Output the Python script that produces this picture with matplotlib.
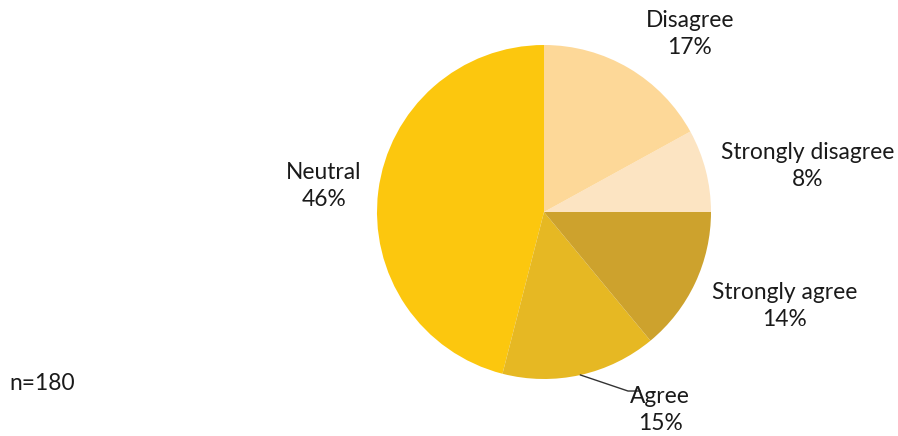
import matplotlib.pyplot as plt
import numpy as np

plt.rcParams['font.family'] = ['Lato', 'DejaVu Sans']

categories = ["Strongly disagree", "Disagree", "Neutral", "Agree", "Strongly agree"]
shares = [8, 17, 46, 15, 14]
colors = ["#FCE4C2", "#FDD898", "#FCC70E", "#E6B823", "#CDA22D"]
sample_note = "n=180"

W, H = 898, 436
fig = plt.figure(figsize=(W / 100, H / 100), dpi=100)

cx, cy, r = 544, 212, 167
ax = fig.add_axes([(cx - r) / W, (H - cy - r) / H, 2 * r / W, 2 * r / H])
wedges, _ = ax.pie(shares, colors=colors, startangle=0, counterclock=True,
                   radius=1.0, wedgeprops=dict(linewidth=0))
ax.set_xlim(-1, 1)
ax.set_ylim(-1, 1)
ax.set_aspect("equal")
ax.axis("off")

# label anchor positions (data units, pie radius = 1)
label_pos = {
    "Strongly disagree": (1.581, 0.275),
    "Disagree": (0.874, 1.066),
    "Neutral": (-1.317, 0.156),
    "Agree": (0.695, -1.186),
    "Strongly agree": (1.443, -0.563),
}

fs = 16.4
for w, cat, val in zip(wedges, categories, shares):
    x, y = label_pos[cat]
    ax.text(x, y, f"{cat}\n{val}%", ha="center", va="center", fontsize=fs,
            color="#1a1a1a", linespacing=1.36, clip_on=False)
    if cat == "Agree":
        mid = np.deg2rad((w.theta1 + w.theta2) / 2)
        ex, ey = np.cos(mid), np.sin(mid)
        ax.plot([ex, 0.503, 0.575], [ey, -1.072, -1.072], color="#333333",
                lw=1.0, clip_on=False)

fig.text(9 / W, 1 - 383 / H, sample_note, ha="left", va="center",
         fontsize=fs, color="#1a1a1a")

fig.savefig("out.png", dpi=100)
